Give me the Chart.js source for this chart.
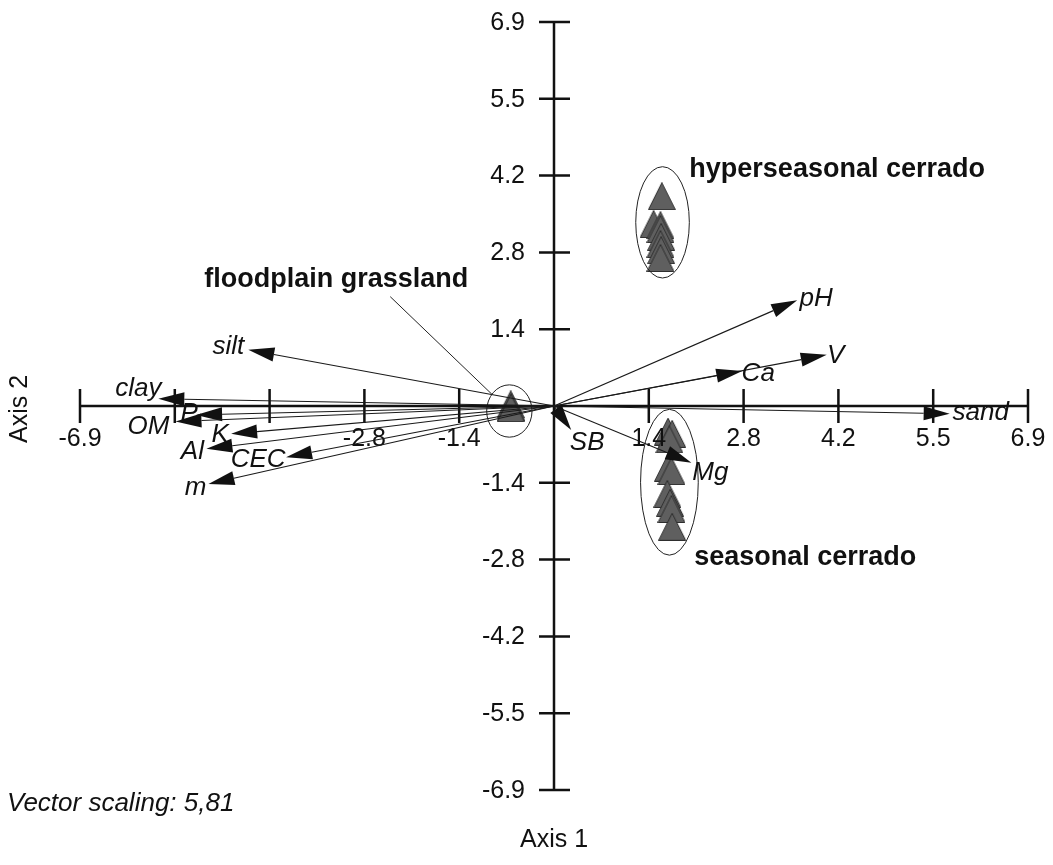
<!DOCTYPE html>
<html>
<head>
<meta charset="utf-8">
<script src="https://cdn.jsdelivr.net/npm/chart.js@4.4.1/dist/chart.umd.min.js"></script>
<style>
  html, body { margin: 0; padding: 0; background: #fff; }
  #wrap { width: 1053px; height: 865px; position: relative; }
</style>
</head>
<body>
<div id="wrap"><canvas id="ordination"></canvas></div>
<script>
// sample scores on axis 1 (x) and axis 2 (y)
const floodplainX = [-0.63, -0.62, -0.63];
const floodplainY = [0.03, -0.02, -0.04];
const hyperX = [1.57, 1.45, 1.55, 1.55, 1.56, 1.55, 1.56, 1.55];
const hyperY = [3.77, 3.27, 3.25, 3.18, 3.04, 2.91, 2.80, 2.66];
const seasonalX = [1.66, 1.72, 1.68, 1.66, 1.71, 1.65, 1.69, 1.71, 1.72];
const seasonalY = [-0.46, -0.50, -0.60, -1.11, -1.17, -1.58, -1.74, -1.85, -2.17];

// environmental vectors (tip coordinates, already scaled)
const vectorNames = ['clay', 'P', 'OM', 'K', 'Al', 'CEC', 'm', 'silt', 'pH', 'V', 'Ca', 'sand', 'Mg', 'SB'];
const vectorX = [-5.76, -5.21, -5.51, -4.70, -5.06, -3.90, -5.03, -4.45, 3.54, 3.97, 2.74, 5.76, 2.00, 0.25];
const vectorY = [0.13, -0.16, -0.28, -0.50, -0.77, -0.92, -1.40, 1.01, 1.90, 0.92, 0.63, -0.14, -1.02, -0.43];

// group ellipses
const groupNames = ['floodplain grassland', 'hyperseasonal cerrado', 'seasonal cerrado'];
const ellipseX = [-0.65, 1.58, 1.68];
const ellipseY = [-0.09, 3.30, -1.37];
const ellipseRX = [0.33, 0.39, 0.42];
const ellipseRY = [0.47, 1.00, 1.31];

// axes
const tickValues = [-6.9, -5.52, -4.14, -2.76, -1.38, 0, 1.38, 2.76, 4.14, 5.52, 6.9];
const xTickLabels = ['-6.9', '', '', '-2.8', '-1.4', '', '1.4', '2.8', '4.2', '5.5', '6.9'];
const yTickLabels = ['-6.9', '-5.5', '-4.2', '-2.8', '-1.4', '', '1.4', '2.8', '4.2', '5.5', '6.9'];

const FONT = '"Liberation Sans", Arial, Helvetica, sans-serif';

// label placement, pixels from the arrow tip (label centre)
const vectorLabelNudge = {
  clay: [-20, -10], P: [-7, -1], OM: [-27, 5], K: [-11, 1], Al: [-14, 3], CEC: [-28, 3],
  m: [-13, 4], silt: [-20, -3], pH: [19, -1], V: [9, 1], Ca: [16, 3], sand: [31, -1],
  Mg: [19, 10], SB: [16, 13]
};
// group label anchors (data units) and alignment
const groupLabelAt = [[-3.17, 2.27, 'center'], [1.97, 4.24, 'left'], [2.04, -2.73, 'left']];

function pairs(xs, ys) {
  return xs.map((x, i) => ({ x: x, y: ys[i] }));
}

// grey triangle marker
function makeTriangle() {
  const c = document.createElement('canvas');
  c.width = 28; c.height = 28;
  const g = c.getContext('2d');
  g.beginPath();
  g.moveTo(14, 0.5);
  g.lineTo(27.5, 27.5);
  g.lineTo(0.5, 27.5);
  g.closePath();
  g.fillStyle = '#5f5f5f';
  g.fill();
  g.strokeStyle = '#2e2e2e';
  g.lineWidth = 1;
  g.stroke();
  return c;
}
const tri = makeTriangle();

function drawArrow(ctx, x0, y0, x1, y1) {
  const ang = Math.atan2(y1 - y0, x1 - x0);
  const len = 26, hw = 7;
  const bx = x1 - Math.cos(ang) * len;
  const by = y1 - Math.sin(ang) * len;
  ctx.beginPath();
  ctx.moveTo(x0, y0);
  ctx.lineTo(bx, by);
  ctx.stroke();
  ctx.beginPath();
  ctx.moveTo(x1, y1);
  ctx.lineTo(bx + Math.sin(ang) * hw, by - Math.cos(ang) * hw);
  ctx.lineTo(bx - Math.sin(ang) * hw, by + Math.cos(ang) * hw);
  ctx.closePath();
  ctx.fill();
}

const biplot = {
  id: 'biplot',
  afterDatasetsDraw(chart) {
    const ctx = chart.ctx;
    const xs = chart.scales.x, ys = chart.scales.y;
    const x0 = xs.getPixelForValue(0), y0 = ys.getPixelForValue(0);
    ctx.save();

    // ellipses
    ctx.strokeStyle = '#222';
    ctx.lineWidth = 1;
    ellipseX.forEach((ex, i) => {
      const cx = xs.getPixelForValue(ex), cy = ys.getPixelForValue(ellipseY[i]);
      const rx = Math.abs(xs.getPixelForValue(ex + ellipseRX[i]) - cx);
      const ry = Math.abs(ys.getPixelForValue(ellipseY[i] + ellipseRY[i]) - cy);
      ctx.beginPath();
      ctx.ellipse(cx, cy, rx, ry, 0, 0, Math.PI * 2);
      ctx.stroke();
    });

    // axes through origin
    ctx.strokeStyle = '#111';
    ctx.lineWidth = 2.5;
    ctx.beginPath();
    ctx.moveTo(xs.getPixelForValue(tickValues[0]), y0);
    ctx.lineTo(xs.getPixelForValue(tickValues[tickValues.length - 1]), y0);
    ctx.moveTo(x0, ys.getPixelForValue(tickValues[0]));
    ctx.lineTo(x0, ys.getPixelForValue(tickValues[tickValues.length - 1]));
    tickValues.forEach(v => {
      if (v === 0) return;
      const px = xs.getPixelForValue(v), py = ys.getPixelForValue(v);
      ctx.moveTo(px, y0 - 17); ctx.lineTo(px, y0 + 17);
      ctx.moveTo(x0 - 15, py); ctx.lineTo(x0 + 16, py);
    });
    ctx.stroke();

    // tick labels
    ctx.fillStyle = '#111';
    ctx.font = '25px ' + FONT;
    ctx.textBaseline = 'middle';
    ctx.textAlign = 'center';
    tickValues.forEach((v, i) => {
      if (xTickLabels[i]) ctx.fillText(xTickLabels[i], xs.getPixelForValue(v), y0 + 33);
    });
    ctx.textAlign = 'right';
    tickValues.forEach((v, i) => {
      if (yTickLabels[i]) ctx.fillText(yTickLabels[i], x0 - 29, ys.getPixelForValue(v) + 1);
    });

    // vectors
    ctx.strokeStyle = '#1a1a1a';
    ctx.fillStyle = '#111';
    ctx.lineWidth = 1.1;
    vectorNames.forEach((name, i) => {
      drawArrow(ctx, x0, y0, xs.getPixelForValue(vectorX[i]), ys.getPixelForValue(vectorY[i]));
    });
    ctx.font = 'italic 26px ' + FONT;
    ctx.textAlign = 'center';
    vectorNames.forEach((name, i) => {
      const n = vectorLabelNudge[name];
      ctx.fillText(name, xs.getPixelForValue(vectorX[i]) + n[0], ys.getPixelForValue(vectorY[i]) + n[1]);
    });

    // group labels
    ctx.font = 'bold 27px ' + FONT;
    groupNames.forEach((g, i) => {
      const a = groupLabelAt[i];
      ctx.textAlign = a[2];
      ctx.fillText(g, xs.getPixelForValue(a[0]), ys.getPixelForValue(a[1]));
    });

    // leader from floodplain label to its ellipse
    const lx = xs.getPixelForValue(groupLabelAt[0][0]) + 54;
    const ly = ys.getPixelForValue(groupLabelAt[0][1]) + 17;
    const cx = xs.getPixelForValue(ellipseX[0]), cy = ys.getPixelForValue(ellipseY[0]);
    const rx = Math.abs(xs.getPixelForValue(ellipseX[0] + ellipseRX[0]) - cx);
    const ry = Math.abs(ys.getPixelForValue(ellipseY[0] + ellipseRY[0]) - cy);
    const dx = lx - cx, dy = ly - cy;
    const s = 1 / Math.sqrt((dx / rx) * (dx / rx) + (dy / ry) * (dy / ry));
    ctx.strokeStyle = '#222';
    ctx.lineWidth = 1;
    ctx.beginPath();
    ctx.moveTo(lx, ly);
    ctx.lineTo(cx + dx * s, cy + dy * s);
    ctx.stroke();

    ctx.restore();
  },
  afterDraw(chart) {
    const ctx = chart.ctx;
    const xs = chart.scales.x, ys = chart.scales.y;
    ctx.save();
    ctx.fillStyle = '#111';
    ctx.textBaseline = 'middle';
    ctx.font = '25px ' + FONT;
    ctx.textAlign = 'center';
    ctx.fillText('Axis 1', xs.getPixelForValue(0), 840);
    ctx.translate(20, ys.getPixelForValue(0) + 3);
    ctx.rotate(-Math.PI / 2);
    ctx.fillText('Axis 2', 0, 0);
    ctx.restore();
    ctx.save();
    ctx.fillStyle = '#111';
    ctx.textBaseline = 'middle';
    ctx.font = 'italic 26px ' + FONT;
    ctx.textAlign = 'left';
    ctx.fillText('Vector scaling: 5,81', 7, 804);
    ctx.restore();
  }
};

const markerStyle = {
  pointStyle: tri,
  pointRadius: 14,
  pointHoverRadius: 14,
  showLine: false
};

new Chart(document.getElementById('ordination'), {
  type: 'scatter',
  data: {
    datasets: [
      Object.assign({ label: groupNames[0], data: pairs(floodplainX, floodplainY) }, markerStyle),
      Object.assign({ label: groupNames[1], data: pairs(hyperX, hyperY) }, markerStyle),
      Object.assign({ label: groupNames[2], data: pairs(seasonalX, seasonalY) }, markerStyle)
    ]
  },
  options: {
    responsive: true,
    maintainAspectRatio: false,
    animation: false,
    layout: { padding: { left: 80, right: 25, top: 22, bottom: 75 } },
    scales: {
      x: { type: 'linear', min: -6.9, max: 6.9, display: false },
      y: { type: 'linear', min: -6.9, max: 6.9, display: false }
    },
    plugins: {
      legend: { display: false },
      tooltip: { enabled: false }
    }
  },
  plugins: [biplot]
});
</script>
</body>
</html>
